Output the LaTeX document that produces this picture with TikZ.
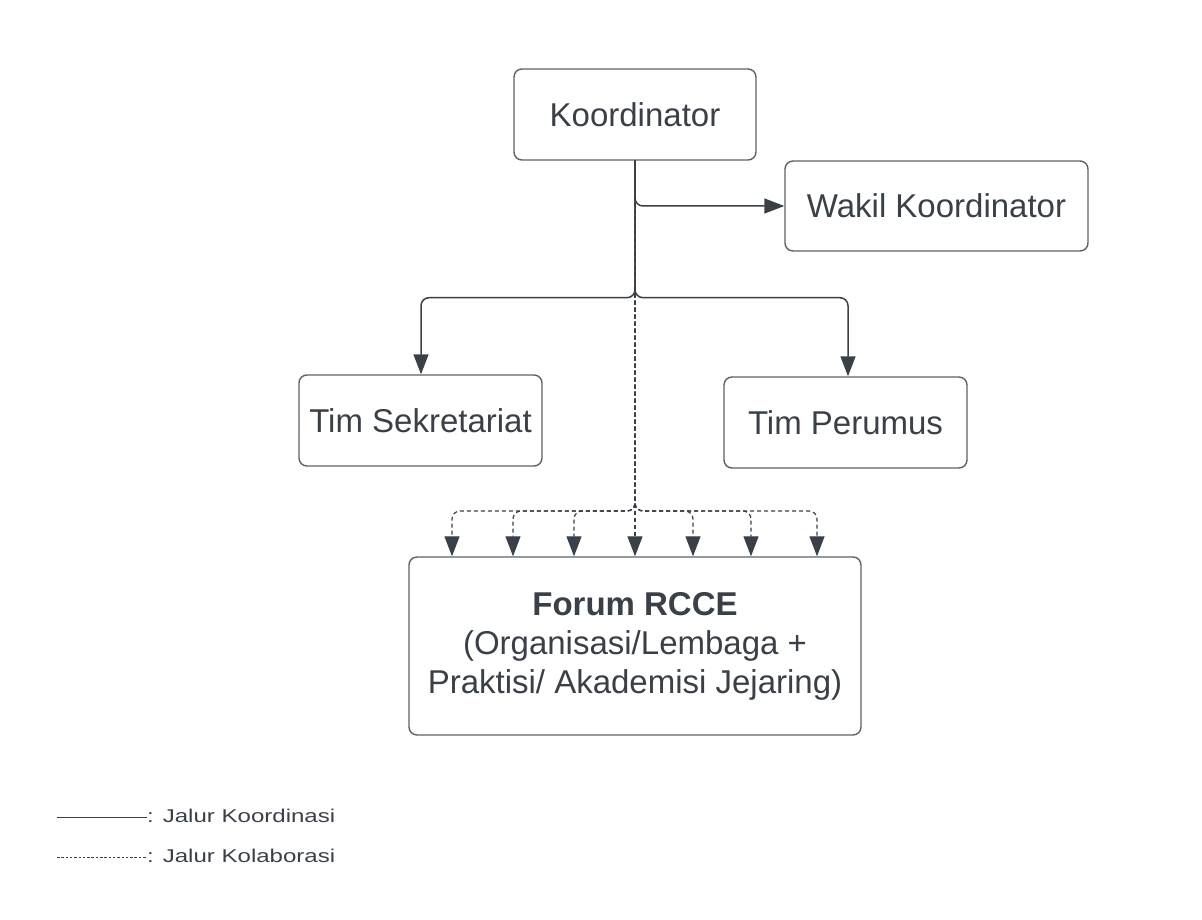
\documentclass[tikz,border=0pt]{standalone}
\usepackage{fontspec}
\setmainfont{Liberation Sans}
\usetikzlibrary{arrows.meta}
\definecolor{ink}{RGB}{58,64,72}
\definecolor{edgeclr}{RGB}{92,97,104}
\begin{document}
\begin{tikzpicture}[x=1pt,y=-1pt,
  box/.style={draw=edgeclr, line width=1.4pt, rounded corners=8pt, text=ink,
    font=\fontsize{33}{39}\selectfont, inner sep=0pt, align=center},
  conn/.style={draw=ink, line width=1.5pt, rounded corners=8pt,
    -{Triangle[length=20pt,width=15pt]}},
  collab/.style={conn, line width=1.2pt, dash pattern=on 4pt off 3pt},
  legtext/.style={anchor=west, inner sep=0pt, text=ink}
]
\useasboundingbox (0,0) rectangle (1202,920);

\node[box, minimum width=242pt, minimum height=91pt] (koord) at (635,114.5) {Koordinator};
\node[box, minimum width=303pt, minimum height=90pt] (wakil) at (936.5,206) {Wakil Koordinator};
\node[box, minimum width=243pt, minimum height=91pt] (sekr) at (420.5,420.5) {Tim Sekretariat};
\node[box, minimum width=243pt, minimum height=91pt] (perum) at (845.5,422.5) {Tim Perumus};
\node[box, minimum width=452pt, minimum height=178pt] (forum) at (635,646)
  {{\bfseries Forum RCCE}\\(Organisasi/Lembaga +\\Praktisi/ Akademisi Jejaring)};

% coordination lines
\draw[conn] (koord.south) |- (wakil.west);
\draw[conn] (koord.south) -- ++(0,137) -| ([xshift=0.5pt]sekr.north);
\draw[conn] (koord.south) -- ++(0,137) -| ([xshift=2.5pt]perum.north);

% collaboration lines
\coordinate (fj) at (635,511);
\draw[collab] (koord.south) -- (fj) -| ([xshift=-183pt]forum.north);
\draw[collab] (koord.south) -- (fj) -| ([xshift=-122pt]forum.north);
\draw[collab] (koord.south) -- (fj) -| ([xshift=-61pt]forum.north);
\draw[collab] (koord.south) -- (forum.north);
\draw[collab] (koord.south) -- (fj) -| ([xshift=58pt]forum.north);
\draw[collab] (koord.south) -- (fj) -| ([xshift=116pt]forum.north);
\draw[collab] (koord.south) -- (fj) -| ([xshift=182pt]forum.north);

% legend
\node[legtext] (leg1) at (147,816) {\scalebox{1.3}[1]{\fontsize{18.5}{21}\selectfont : Jalur Koordinasi}};
\node[legtext] (leg2) at (147,856) {\scalebox{1.3}[1]{\fontsize{18.5}{21}\selectfont : Jalur Kolaborasi}};
\coordinate (l1) at (57,817);
\coordinate (l2) at (57,857);
\draw[ink, line width=1pt] (l1) -- (l1 -| leg1.west);
\draw[ink, line width=0.9pt, dash pattern=on 2.5pt off 1.8pt] (l2) -- (l2 -| leg2.west);
\end{tikzpicture}
\end{document}
